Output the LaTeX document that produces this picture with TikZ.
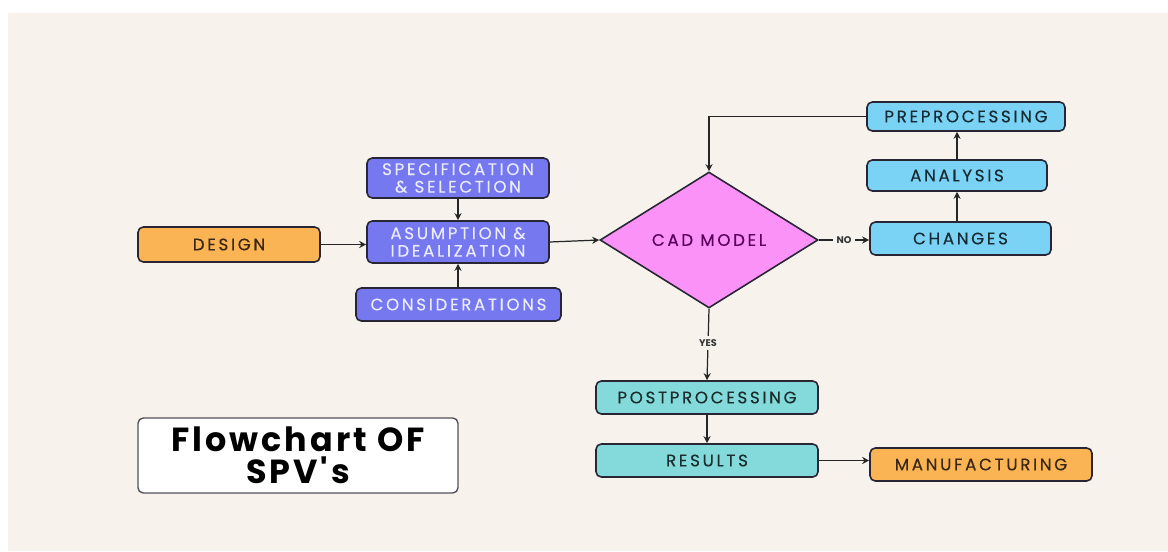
\documentclass[tikz,border=0pt]{standalone}
\usepackage{fontspec}
\setmainfont{Poppins}
\newfontfamily\boxfont{Poppins}[LetterSpace=16, FakeBold=0.3]
\newfontfamily\headfont{Poppins}[LetterSpace=9]
\usepackage{tikz}
\usetikzlibrary{shapes.geometric,arrows.meta}

\definecolor{paper}{RGB}{247,243,236}
\definecolor{edge}{RGB}{40,38,52}
\definecolor{orangebox}{RGB}{250,180,84}
\definecolor{violetbox}{RGB}{118,120,240}
\definecolor{pinkbox}{RGB}{250,146,248}
\definecolor{skybox}{RGB}{122,210,245}
\definecolor{tealbox}{RGB}{132,218,218}

\begin{document}
\begin{tikzpicture}[
  box/.style={draw=edge, line width=0.9pt, rounded corners=3pt, align=center,
    font=\boxfont\fontsize{9.5}{10}\selectfont, inner sep=1pt},
  orangestep/.style={box, fill=orangebox, text=black!70!brown},
  violetstep/.style={box, fill=violetbox, text=white!85!violetbox},
  skystep/.style={box, fill=skybox, text=black!80!skybox},
  tealstep/.style={box, fill=tealbox, text=black!80!tealbox},
  arr/.style={draw=black!85, line width=0.7pt, -{Stealth[length=4pt,width=4pt]}},
  lbl/.style={fill=paper, inner sep=2pt, font=\bfseries\fontsize{5.5}{6}\selectfont, text=black!80}
]

% background
\useasboundingbox (0,0) rectangle (23.36,11.02);
\fill[paper] (0.16,0) rectangle (23.36,10.76);

% left column
\node[orangestep, minimum width=3.64cm, minimum height=0.70cm] (design) at (4.58,6.13) {DESIGN};
\node[violetstep, minimum width=3.64cm, minimum height=0.80cm] (spec) at (9.16,7.46) {SPECIFICATION\\\& SELECTION};
\node[violetstep, minimum width=3.64cm, minimum height=0.84cm] (asum) at (9.16,6.18) {ASUMPTION \&\\IDEALIZATION};
\node[violetstep, minimum width=4.10cm, minimum height=0.66cm] (cons) at (9.17,4.93) {CONSIDERATIONS};

% decision
\node[diamond, draw=edge, line width=0.9pt, fill=pinkbox, minimum width=4.36cm, minimum height=2.72cm,
  inner sep=0pt, font=\boxfont\fontsize{9.5}{10}\selectfont, text=violet!70!black] (cad) at (14.18,6.22) {CAD MODEL};

% right column
\node[skystep, minimum width=3.96cm, minimum height=0.58cm] (prep) at (19.32,8.69) {PREPROCESSING};
\node[skystep, minimum width=3.60cm, minimum height=0.62cm] (anal) at (19.14,7.51) {ANALYSIS};
\node[skystep, minimum width=3.62cm, minimum height=0.66cm] (chng) at (19.21,6.25) {CHANGES};

% bottom
\node[tealstep, minimum width=4.44cm, minimum height=0.66cm] (post) at (14.14,3.07) {POSTPROCESSING};
\node[tealstep, minimum width=4.44cm, minimum height=0.66cm] (res) at (14.14,1.81) {RESULTS};
\node[orangestep, minimum width=4.44cm, minimum height=0.66cm] (manu) at (19.62,1.73) {MANUFACTURING};

% title
\node[draw=edge!80, line width=0.8pt, fill=white, rounded corners=3pt, minimum width=6.4cm, minimum height=1.5cm,
  align=center, font=\headfont\bfseries\fontsize{19}{18.5}\selectfont] (title) at (5.96,1.91) {Flowchart OF\\SPV's};

% connectors
\draw[arr] (design.east) -- (design.east -| asum.west);
\draw[arr] (spec.south) -- (asum.north);
\draw[arr] (cons.north -| asum.south) -- (asum.south);
\draw[arr] (asum.east) -- (cad.west);
\draw[arr] (cad.east) -- node[lbl] {NO} (cad.east -| chng.west);
\draw[arr] (chng.north -| anal.south) -- (anal.south);
\draw[arr] (anal.north) -- (anal.north |- prep.south);
\draw[arr] (prep.west) -| (cad.north);
\draw[arr] (cad.south) -- node[lbl, pos=0.48] {YES} (post.north);
\draw[arr] (post.south) -- (res.north);
\draw[arr] (res.east) -- (res.east -| manu.west);

\end{tikzpicture}
\end{document}
